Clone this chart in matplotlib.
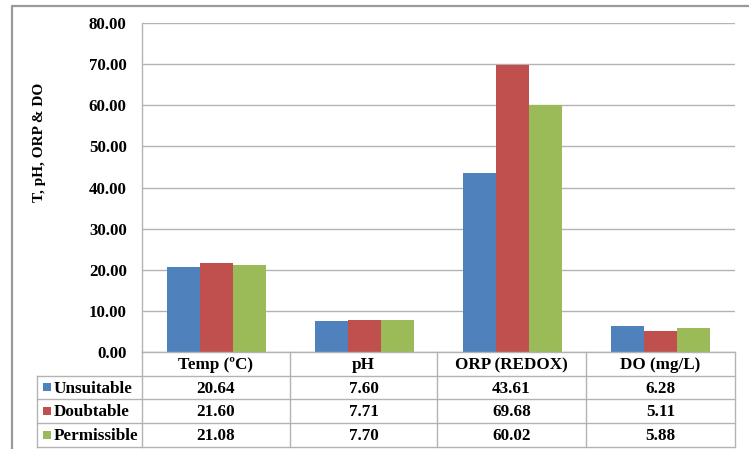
import matplotlib
matplotlib.use("Agg")
import matplotlib.pyplot as plt
from matplotlib.lines import Line2D
from matplotlib.patches import Rectangle

# Water quality parameters by class
categories = ["Temp (ºC)", "pH", "ORP (REDOX)", "DO (mg/L)"]
series_names = ["Unsuitable", "Doubtable", "Permissible"]
unsuitable = [20.64, 7.60, 43.61, 6.28]
doubtable = [21.60, 7.71, 69.68, 5.11]
permissible = [21.08, 7.70, 60.02, 5.88]
series_values = [unsuitable, doubtable, permissible]
colors = ["#4F81BD", "#C0504D", "#9BBB59"]
y_ticks = [0, 10, 20, 30, 40, 50, 60, 70, 80]

W, H = 749, 449
FONT = "Liberation Serif"
GRID = "#b3b3b3"
TABLE_FS = 12.3
TEXT_DROP = 1.5  # nudge cell text down so digits sit centred

fig = plt.figure(figsize=(W / 100, H / 100), dpi=100)


def fx(px):
    return px / W


def fy(py):
    return 1 - py / H


# plot area in pixel coordinates
left, right, top, base = 142, 735, 23, 352
ax = fig.add_axes([fx(left), fy(base), fx(right - left), (base - top) / H])

n = len(categories)
bw = 0.223
for i, (vals, c) in enumerate(zip(series_values, colors)):
    xs = [k + (i - 1) * bw for k in range(n)]
    ax.bar(xs, vals, width=bw, color=c, edgecolor="none", zorder=3)

ax.set_xlim(-0.5, n - 0.5)
ax.set_ylim(y_ticks[0], y_ticks[-1])
ax.set_yticks(y_ticks)
ax.set_yticklabels([f"{v:.2f}" for v in y_ticks], fontfamily=FONT,
                   fontweight="bold", fontsize=12.2)
ax.tick_params(axis="y", length=0, pad=11)
ax.set_xticks([])
ax.yaxis.grid(True, color=GRID, linewidth=1, zorder=0)
for s in ["top", "right", "bottom"]:
    ax.spines[s].set_visible(False)
ax.spines["left"].set_color(GRID)
ax.spines["left"].set_linewidth(1)

fig.text(fx(40), fy(142), "T, pH, ORP & DO", rotation=90, ha="center",
         va="center", fontfamily=FONT, fontweight="bold", fontsize=11)

# data table below the plot
col_edges = [142, 290, 437, 586, 735]
row_edges = [352, 375.5, 399, 422.5, 446.5]
label_left = 37


def hline(y, x0, x1):
    fig.add_artist(Line2D([fx(x0), fx(x1)], [fy(y), fy(y)], color=GRID,
                          linewidth=1, transform=fig.transFigure))


def vline(x, y0, y1):
    fig.add_artist(Line2D([fx(x), fx(x)], [fy(y0), fy(y1)], color=GRID,
                          linewidth=1, transform=fig.transFigure))


hline(row_edges[0], col_edges[0], col_edges[-1])
for y in row_edges[1:]:
    hline(y, label_left, col_edges[-1])
vline(label_left, row_edges[1], row_edges[-1])
for x in col_edges:
    vline(x, row_edges[0], row_edges[-1])

txt = dict(fontfamily=FONT, fontweight="bold", fontsize=TABLE_FS,
           ha="center", va="center")
for j, cat in enumerate(categories):
    cx = (col_edges[j] + col_edges[j + 1]) / 2
    cy = (row_edges[0] + row_edges[1]) / 2
    fig.text(fx(cx), fy(cy + TEXT_DROP), cat, **txt)

for i, (name, vals, c) in enumerate(zip(series_names, series_values, colors)):
    cy = (row_edges[i + 1] + row_edges[i + 2]) / 2
    fig.add_artist(Rectangle((fx(43), fy(cy + 4)), fx(8), 8 / H,
                             facecolor=c, edgecolor="none",
                             transform=fig.transFigure))
    fig.text(fx(54), fy(cy + TEXT_DROP), name, fontfamily=FONT,
             fontweight="bold", fontsize=TABLE_FS, ha="left", va="center")
    for j, v in enumerate(vals):
        cx = (col_edges[j] + col_edges[j + 1]) / 2
        fig.text(fx(cx), fy(cy + TEXT_DROP), f"{v:.2f}", **txt)

# outer chart frame
frame_color = "#9a9a9a"
fig.add_artist(Line2D([fx(12), fx(12), fx(W + 5)], [fy(H + 5), fy(6), fy(6)],
                      color=frame_color, linewidth=1.6,
                      transform=fig.transFigure))

fig.savefig("out.png", dpi=100)
